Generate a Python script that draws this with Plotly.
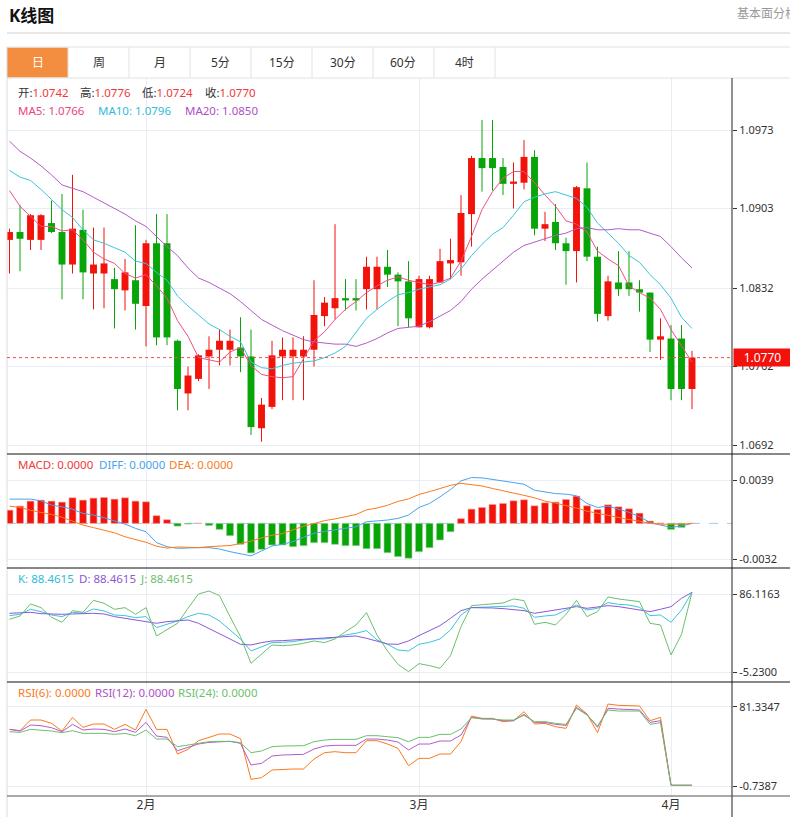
import plotly.graph_objects as go

# ---------------- data ----------------
open_ = [1.0875,1.0882,1.0875,1.0875,1.0890,1.0882,1.0853,1.0884,1.0845,1.0845,
         1.0840,1.0830,1.0839,1.0816,1.0872,1.0872,1.0785,1.0738,1.0751,1.0771,
         1.0777,1.0777,1.0779,1.0771,1.0707,1.0726,1.0771,1.0771,1.0771,1.0777,
         1.0807,1.0814,1.0823,1.0823,1.0831,1.0831,1.0851,1.0844,1.0838,1.0797,
         1.0797,1.0837,1.0854,1.0855,1.0898,1.0948,1.0948,1.0940,1.0925,1.0926,
         1.0949,1.0885,1.0891,1.0872,1.0865,1.0921,1.0860,1.0807,1.0837,1.0837,
         1.0831,1.0828,1.0786,1.0787,1.0787,1.0742]
high = [1.0885,1.0906,1.0898,1.0898,1.0910,1.0916,1.0933,1.0902,1.0886,1.0886,
        1.0850,1.0858,1.0888,1.0875,1.0898,1.0898,1.0786,1.0762,1.0773,1.0789,
        1.0795,1.0795,1.0806,1.0795,1.0734,1.0785,1.0788,1.0788,1.0789,1.0839,
        1.0824,1.0889,1.0840,1.0840,1.0860,1.0860,1.0866,1.0846,1.0856,1.0843,
        1.0843,1.0867,1.0876,1.0915,1.0950,1.0982,1.0982,1.0948,1.0944,1.0964,
        1.0955,1.0900,1.0907,1.0877,1.0923,1.0944,1.0869,1.0843,1.0865,1.0865,
        1.0839,1.0828,1.0805,1.0799,1.0799,1.0776]
low = [1.0845,1.0847,1.0866,1.0866,1.0881,1.0822,1.0845,1.0822,1.0813,1.0814,
       1.0796,1.0812,1.0795,1.0780,1.0781,1.0781,1.0723,1.0723,1.0749,1.0742,
       1.0763,1.0763,1.0757,1.0701,1.0695,1.0724,1.0732,1.0732,1.0732,1.0762,
       1.0798,1.0804,1.0812,1.0812,1.0813,1.0813,1.0833,1.0798,1.0797,1.0797,
       1.0796,1.0837,1.0840,1.0843,1.0869,1.0918,1.0919,1.0915,1.0903,1.0920,
       1.0879,1.0874,1.0866,1.0835,1.0837,1.0856,1.0802,1.0803,1.0825,1.0825,
       1.0811,1.0775,1.0768,1.0732,1.0732,1.0724]
close = [1.0882,1.0876,1.0897,1.0897,1.0882,1.0853,1.0885,1.0846,1.0853,1.0854,
         1.0831,1.0846,1.0818,1.0872,1.0788,1.0788,1.0742,1.0754,1.0772,1.0777,
         1.0785,1.0785,1.0771,1.0708,1.0728,1.0772,1.0777,1.0777,1.0777,1.0808,
         1.0819,1.0823,1.0821,1.0821,1.0851,1.0851,1.0844,1.0838,1.0805,1.0840,
         1.0840,1.0856,1.0857,1.0899,1.0948,1.0939,1.0939,1.0925,1.0927,1.0949,
         1.0885,1.0889,1.0872,1.0865,1.0922,1.0860,1.0809,1.0838,1.0831,1.0831,
         1.0828,1.0786,1.0789,1.0742,1.0742,1.0770]

ma5 = [1.0919,1.0905,1.0896,1.0887,1.0887,1.0883,1.0884,1.0875,1.0864,1.0858,
       1.0854,1.0845,1.0841,1.0844,1.0834,1.0823,1.0803,1.0789,1.0770,1.0768,
       1.0766,1.0775,1.0779,1.0763,1.0755,1.0753,1.0752,1.0753,1.0769,1.0785,
       1.0793,1.0804,1.0813,1.0820,1.0828,1.0834,1.0839,1.0842,1.0839,1.0837,
       1.0835,1.0837,1.0841,1.0856,1.0878,1.0902,1.0918,1.0930,1.0936,1.0936,
       1.0926,1.0915,1.0905,1.0892,1.0889,1.0882,1.0865,1.0858,1.0852,1.0834,
       1.0828,1.0823,1.0813,1.0795,1.0780,1.0766]
ma10 = [1.0937,1.0931,1.0928,1.0920,1.0911,1.0902,1.0895,1.0884,1.0875,1.0872,
        1.0868,1.0864,1.0856,1.0854,1.0846,1.0839,1.0825,1.0816,1.0808,1.0800,
        1.0795,1.0789,1.0784,1.0766,1.0761,1.0760,1.0763,1.0765,1.0766,1.0767,
        1.0770,1.0774,1.0780,1.0792,1.0805,1.0813,1.0820,1.0826,1.0828,1.0831,
        1.0833,1.0835,1.0840,1.0849,1.0861,1.0871,1.0880,1.0886,1.0897,1.0909,
        1.0913,1.0916,1.0918,1.0915,1.0912,1.0904,1.0890,1.0881,1.0872,1.0861,
        1.0855,1.0844,1.0835,1.0823,1.0806,1.0796]
ma20 = [1.0963,1.0954,1.0948,1.0941,1.0933,1.0924,1.0921,1.0918,1.0913,1.0908,
        1.0903,1.0898,1.0892,1.0887,1.0878,1.0869,1.0861,1.0850,1.0841,1.0837,
        1.0832,1.0827,1.0820,1.0812,1.0804,1.0799,1.0794,1.0790,1.0786,1.0784,
        1.0783,1.0782,1.0782,1.0780,1.0783,1.0787,1.0792,1.0796,1.0797,1.0798,
        1.0802,1.0807,1.0812,1.0820,1.0831,1.0840,1.0848,1.0856,1.0864,1.0870,
        1.0873,1.0876,1.0879,1.0881,1.0885,1.0886,1.0884,1.0884,1.0885,1.0884,
        1.0884,1.0881,1.0878,1.0869,1.0859,1.0850]

macd_hist = [0.00119,0.00155,0.0020,0.00209,0.0020,0.00191,0.0023,0.00209,0.00227,0.00233,
             0.00218,0.0023,0.0020,0.00194,0.00069,0.00033,-0.00024,-0.00006,0.00002,-0.00018,
             -0.00054,-0.0011,-0.00188,-0.00265,-0.00233,-0.00194,-0.00194,-0.00209,-0.0020,-0.00173,
             -0.00173,-0.00188,-0.0020,-0.0020,-0.00227,-0.00227,-0.00263,-0.00298,-0.00313,-0.00254,
             -0.00218,-0.00149,-0.00075,0.00042,0.00128,0.00143,0.0017,0.00179,0.00203,0.00212,
             0.00158,0.00185,0.00191,0.00215,0.00245,0.00158,0.00125,0.00167,0.00149,0.00131,
             0.00092,0.00021,0.00003,-0.00054,-0.00036,0.0]
diff = [0.00218,0.00218,0.00218,0.00203,0.00164,0.00149,0.00128,0.00089,0.00075,0.00051,
        0.00024,-0.00006,-0.00045,-0.00075,-0.00173,-0.00209,-0.00224,-0.00218,-0.00218,-0.00218,
        -0.0023,-0.00254,-0.00274,-0.00292,-0.00248,-0.00203,-0.00188,-0.00164,-0.00125,-0.00089,
        -0.00072,-0.0006,-0.00045,-0.0003,0.00015,0.00021,0.0003,0.00045,0.00075,0.00143,
        0.00179,0.00239,0.00304,0.00382,0.00412,0.00409,0.00397,0.00382,0.00367,0.00352,
        0.00298,0.00283,0.00268,0.00263,0.00248,0.00179,0.00143,0.00155,0.0013,0.0010,
        0.0006,0.00009,-0.00015,-0.00036,-0.00024,0.0]
dea = [0.00155,0.00143,0.00118,0.0010,0.0008,0.00055,0.0002,-0.00015,-0.00038,-0.00063,
       -0.00085,-0.0012,-0.00145,-0.0017,-0.00205,-0.00222,-0.00212,-0.00215,-0.00218,-0.00209,
       -0.00203,-0.00199,-0.0018,-0.00159,-0.00131,-0.00106,-0.00091,-0.00059,-0.00025,-0.00002,
       0.00025,0.0004,0.0006,0.0008,0.00122,0.00138,0.00163,0.00198,0.0022,0.0026,
       0.00285,0.00316,0.00342,0.0036,0.00348,0.00336,0.00314,0.00295,0.0027,0.00252,
       0.0023,0.002,0.00182,0.00162,0.00138,0.0011,0.0009,0.0007,0.00055,0.00035,
       0.0002,0.0,-0.00008,-0.0001,-0.00008,0.0]

k_vals = [61.13,62.70,68.55,65.82,61.91,59.96,65.04,63.87,68.94,66.60,
          61.91,61.13,58.79,59.96,47.08,50.98,54.89,59.96,63.87,61.91,
          54.89,44.35,33.81,19.75,24.83,29.51,29.90,30.68,32.64,33.81,
          33.81,35.37,38.49,40.44,43.57,32.64,27.56,20.93,19.75,27.56,
          29.90,33.81,44.35,61.91,70.50,70.89,71.28,71.67,72.45,69.72,
          59.18,60.74,61.91,67.77,73.63,67.77,69.72,76.36,74.41,73.63,
          70.89,61.13,61.91,53.33,67.77,88.46]
d_vals = [63.87,64.65,65.04,63.48,62.70,62.70,63.09,63.87,63.87,63.09,
          59.96,58.01,56.06,54.11,52.16,54.11,54.89,56.06,52.16,46.30,
          40.44,33.81,27.56,26.78,29.51,31.47,31.86,32.64,33.81,34.59,
          35.37,36.54,37.32,37.32,34.59,31.47,27.90,27.56,31.47,37.71,
          43.18,49.42,58.01,66.99,70.50,70.50,70.11,69.33,68.55,66.99,
          63.87,65.82,67.77,69.72,71.67,69.72,70.89,72.84,71.67,69.72,
          68.55,65.82,68.55,71.67,81.43,88.46]
j_vals = [56.84,60.74,74.80,70.50,59.18,53.33,66.99,65.04,79.09,75.58,
          68.55,70.50,62.70,70.50,37.32,44.35,52.16,69.72,86.51,90.02,
          84.56,59.96,36.54,5.31,15.85,26.78,26.00,26.78,28.73,31.47,
          29.51,33.81,42.40,50.20,64.65,38.49,19.75,4.14,-4.45,4.92,
          2.58,-0.54,14.29,48.25,72.84,73.63,74.41,75.97,80.65,78.70,
          50.98,53.33,50.20,62.70,79.09,59.96,65.82,82.99,80.65,79.48,
          77.53,52.16,50.20,15.07,39.27,88.46]

rsi6 = [57.88,56.50,67.54,67.54,64.09,56.16,70.30,59.95,63.40,63.40,
        57.88,63.06,57.20,78.58,57.88,57.88,32.37,37.19,46.16,49.61,
        53.06,53.06,48.23,6.16,7.88,15.81,16.50,16.85,16.85,27.19,
        33.75,34.78,33.75,33.75,46.16,46.16,42.71,38.23,20.30,27.88,
        27.88,32.37,32.37,45.13,71.68,69.27,69.27,65.82,66.85,76.16,
        63.40,64.09,60.64,58.92,83.06,73.75,54.44,84.09,82.72,82.72,
        82.03,66.85,70.30,0.0,0.0,0.0]
rsi12 = [57.88,56.16,62.37,61.68,59.61,55.47,63.06,57.20,58.23,57.88,
         55.47,58.23,54.78,65.13,50.99,49.61,35.81,38.92,42.71,44.43,
         45.13,45.47,43.40,20.99,22.71,30.30,31.33,31.33,32.02,37.54,
         40.64,41.33,41.33,41.33,47.88,47.88,46.85,44.78,36.50,42.71,
         42.71,45.82,45.82,52.02,70.30,68.92,68.57,66.85,66.85,73.40,
         65.13,65.13,63.06,62.02,80.65,73.40,59.95,79.61,78.92,78.58,
         77.89,65.13,66.85,0.0,0.0,0.0]
rsi24 = [55.47,54.78,57.88,57.20,56.16,54.44,56.50,53.75,53.75,53.75,
         52.71,53.75,51.33,57.20,47.88,47.88,39.95,41.68,44.09,45.13,
         45.47,45.47,44.09,33.75,35.47,39.95,40.64,40.99,40.99,45.13,
         46.85,47.54,47.54,47.54,51.33,51.33,50.30,49.26,45.13,49.61,
         49.61,52.71,52.71,58.23,69.95,68.57,68.57,67.54,67.54,72.37,
         65.82,65.82,64.09,63.06,79.61,72.71,61.33,77.89,76.85,76.85,
         76.85,63.06,64.78,0.0,0.0,0.0]

month_ticks = [13, 39, 63]
month_labels = ["2月", "3月", "4月"]
price_ticks = [1.0973, 1.0903, 1.0832, 1.0762, 1.0692]
macd_ticks = [0.0039, -0.0032]
kdj_ticks = [86.1163, -5.2300]
rsi_ticks = [81.3347, -0.7387]
last_close = 1.0770

tabs = ["日", "周", "月", "5分", "15分", "30分", "60分", "4时"]
ohlc_labels = [("开", "1.0742"), ("高", "1.0776"), ("低", "1.0724"), ("收", "1.0770")]
ma_labels = [("MA5: 1.0766", "#e9467f"), ("MA10: 1.0796", "#2fbcd9"), ("MA20: 1.0850", "#b04fc6")]
macd_labels = [("MACD: 0.0000", "#f0393a"), ("DIFF: 0.0000", "#4aa3ee"), ("DEA: 0.0000", "#fb7a1d")]
kdj_labels = [("K: 88.4615", "#2fbcd9"), ("D: 88.4615", "#8a58d6"), ("J: 88.4615", "#6cbf6c")]
rsi_labels = [("RSI(6): 0.0000", "#fb7a1d"), ("RSI(12): 0.0000", "#b04fc6"), ("RSI(24): 0.0000", "#6cbf6c")]

# ---------------- layout constants ----------------
W, H = 790, 817
X0, X1 = 7, 732
STEP, FIRST = 10.5, 9.5
RED, GREEN = "#f2130a", "#08a508"
FONT = "Noto Sans, Noto Sans CJK SC, sans-serif"
GRID = "#e8eef4"


def fx(x):
    return x / W


def fy(y):
    return 1 - y / H


xr = [(X0 - FIRST) / STEP, (X1 - FIRST) / STEP]
n = len(open_)
idx = list(range(n))

fig = go.Figure()

# ---- candles ----
up = [i for i in idx if close[i] >= open_[i]]
dn = [i for i in idx if close[i] < open_[i]]
for group, col in ((up, RED), (dn, GREEN)):
    wx, wy = [], []
    for i in group:
        wx += [i, i, None]
        wy += [low[i], high[i], None]
    fig.add_trace(go.Scatter(x=wx, y=wy, mode="lines", line=dict(color=col, width=1),
                             xaxis="x", yaxis="y", hoverinfo="skip"))
    fig.add_trace(go.Bar(x=group,
                         y=[max(abs(close[i] - open_[i]), 0.00008) for i in group],
                         base=[min(close[i], open_[i]) for i in group],
                         width=0.66, marker=dict(color=col, line=dict(width=0)),
                         xaxis="x", yaxis="y", hoverinfo="skip"))

for vals, col in ((ma5, "#ee4f84"), (ma10, "#3cc4de"), (ma20, "#b45bca")):
    fig.add_trace(go.Scatter(x=idx, y=vals, mode="lines", line=dict(color=col, width=1),
                             xaxis="x", yaxis="y", hoverinfo="skip"))

# ---- MACD ----
fig.add_trace(go.Bar(x=idx, y=macd_hist, width=0.66,
                     marker=dict(color=[RED if v >= 0 else GREEN for v in macd_hist],
                                 line=dict(color=["#f7a3a0" if v >= 0 else "#8fd18f" for v in macd_hist],
                                           width=0.6)),
                     xaxis="x2", yaxis="y2", hoverinfo="skip"))
fig.add_trace(go.Scatter(x=idx, y=diff, mode="lines", line=dict(color="#4aa3ee", width=1),
                         xaxis="x2", yaxis="y2", hoverinfo="skip"))
fig.add_trace(go.Scatter(x=idx, y=dea, mode="lines", line=dict(color="#fb7a1d", width=1),
                         xaxis="x2", yaxis="y2", hoverinfo="skip"))

# ---- KDJ ----
for vals, col in ((k_vals, "#3cc4de"), (d_vals, "#8a58d6"), (j_vals, "#6cbf6c")):
    fig.add_trace(go.Scatter(x=idx, y=vals, mode="lines", line=dict(color=col, width=1),
                             xaxis="x3", yaxis="y3", hoverinfo="skip"))

# ---- RSI ----
for vals, col in ((rsi6, "#fb7a1d"), (rsi12, "#b45bca"), (rsi24, "#6cbf6c")):
    fig.add_trace(go.Scatter(x=idx, y=vals, mode="lines", line=dict(color=col, width=1),
                             xaxis="x4", yaxis="y4", hoverinfo="skip"))

# ---- axes ----
panels = [  # (top px, bottom px, range, ticks, ticktext)
    (78, 454, [1.06840, 1.10194], price_ticks, [f"{v:.4f}" for v in price_ticks]),
    (454, 568, [-0.004009, 0.006237], macd_ticks, [f"{v:.4f}" for v in macd_ticks]),
    (568, 682, [-16.59, 116.92], kdj_ticks, [f"{v:.4f}" for v in kdj_ticks]),
    (682, 796, [-11.09, 106.9], rsi_ticks, [f"{v:.4f}" for v in rsi_ticks]),
]
lay = {}
for k, (top, bot, rng, tv, tt) in enumerate(panels, start=1):
    sx = "" if k == 1 else str(k)
    lay["xaxis" + sx] = dict(domain=[fx(X0), fx(X1)], range=xr, anchor="y" + sx,
                             tickvals=month_ticks, ticktext=month_labels,
                             showticklabels=(k == 4), ticks="", showgrid=True,
                             gridcolor=GRID, gridwidth=1, zeroline=False, showline=False,
                             tickfont=dict(size=12, color="#333", family=FONT),
                             fixedrange=True)
    lay["yaxis" + sx] = dict(domain=[fy(bot), fy(top)], range=rng, anchor="x" + sx,
                             side="right", tickvals=tv, ticktext=tt, ticks="outside",
                             ticklen=4, tickcolor="#333", showgrid=True, gridcolor=GRID,
                             gridwidth=1, zeroline=False, showline=False,
                             tickfont=dict(size=11, color="#333", family=FONT),
                             fixedrange=True)

shapes = []


def pline(x0, y0, x1, y1, color, width=1, dash=None):
    d = dict(type="line", xref="paper", yref="paper", x0=fx(x0), y0=fy(y0),
             x1=fx(x1), y1=fy(y1), line=dict(color=color, width=width))
    if dash:
        d["line"]["dash"] = dash
    shapes.append(d)


# header rule
pline(7, 33, 790, 33, "#cfcfcf")
# tab bar
shapes.append(dict(type="rect", xref="paper", yref="paper", x0=fx(7), x1=fx(68),
                   y0=fy(77.5), y1=fy(47.5), fillcolor="#f38d40", line=dict(width=0)))
pline(7, 47, 790, 47, "#e2e2e2")
pline(7, 78, 790, 78, "#e2e2e2")
tab_edges = [7, 68, 129, 190, 251, 312, 373, 434, 495]
for xe in tab_edges[1:]:
    pline(xe, 47, xe, 78, "#e2e2e2")
# chart frame
pline(7, 47, 7, 817, "#dcdcdc")
pline(X1, 78, X1, 817, "#222")
for yb in (454, 568, 682):
    pline(7, yb, 790, yb, "#111")
pline(7, 796, 790, 796, "#555")
# last price dotted line
shapes.append(dict(type="line", xref="x domain", yref="y", x0=0, x1=1,
                   y0=last_close, y1=last_close,
                   line=dict(color="#f05050", width=1, dash="dot")))
# MACD zero line
shapes.append(dict(type="line", xref="x2 domain", yref="y2", x0=0, x1=1, y0=0, y1=0,
                   layer="below", line=dict(color="#9fcdf0", width=1, dash="dash")))

ann = []


def ptext(x, y, text, size=11, color="#333", anchor="left"):
    ann.append(dict(xref="paper", yref="paper", x=fx(x), y=fy(y), text=text,
                    showarrow=False, xanchor=anchor, yanchor="middle",
                    font=dict(size=size, color=color, family=FONT)))


ptext(7, 15, "<b>K线图</b>", size=17, color="#111")
ptext(735, 14, "基本面分析", size=12, color="#999")
for t, (a, b) in enumerate(zip(tab_edges[:-1], tab_edges[1:])):
    ptext((a + b) / 2, 62.5, tabs[t], size=12, color="#fff" if t == 0 else "#333", anchor="center")

for (lab, val), x in zip(ohlc_labels, (16, 78, 140, 203)):
    ptext(x, 93, f"{lab}:<span style='color:#f0393a'>{val}</span>", size=11.5, color="#333")
for (txt, col), x in zip(ma_labels, (16, 96, 183)):
    ptext(x, 110, txt, size=11.5, color=col)
for (txt, col), x in zip(macd_labels, (16, 97, 167)):
    ptext(x, 464, txt, size=11.5, color=col)
for (txt, col), x in zip(kdj_labels, (16, 77, 138)):
    ptext(x, 578, txt, size=11.5, color=col)
for (txt, col), x in zip(rsi_labels, (16, 93, 176)):
    ptext(x, 692, txt, size=11.5, color=col)

# last price tag
ann.append(dict(xref="paper", yref="y", x=fx(733), y=last_close, xanchor="left",
                yanchor="middle", text=f"{last_close:.4f}", showarrow=False,
                bgcolor="#f4110b", width=53, height=13, borderpad=2, align="center",
                font=dict(size=12, color="#fff", family=FONT)))

fig.update_layout(width=W, height=H, margin=dict(l=0, r=0, t=0, b=0),
                  paper_bgcolor="#fff", plot_bgcolor="#fff", showlegend=False,
                  barmode="overlay", shapes=shapes, annotations=ann,
                  font=dict(family=FONT), **lay)

fig.write_html("out.html", config={"displayModeBar": False},
               post_script="document.body.style.margin='0';document.body.style.overflow='hidden';")
